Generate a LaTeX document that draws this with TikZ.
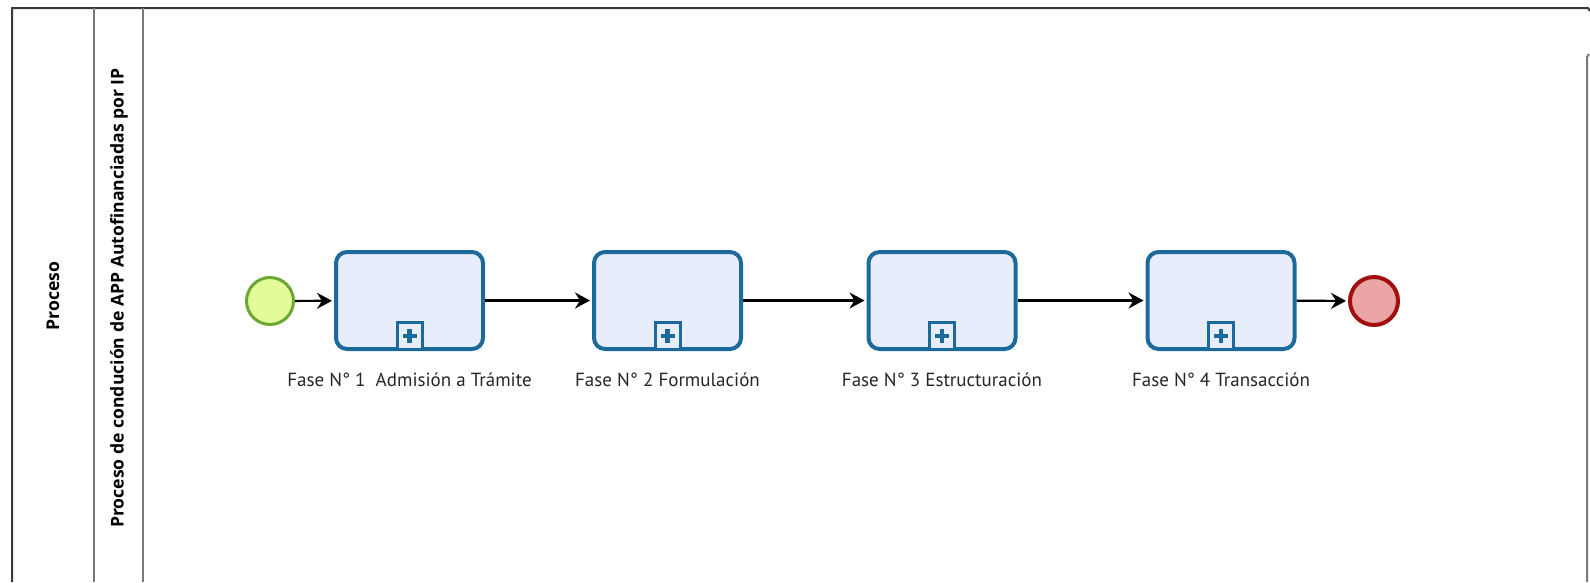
\documentclass[tikz,border=0pt]{standalone}
\usepackage{fontspec}
\setmainfont{PT Sans}
\newfontfamily\lanefont{Open Sans}
\usetikzlibrary{arrows.meta}
\definecolor{taskblue}{HTML}{1C6A9B}
\definecolor{taskfill}{HTML}{E8EDFC}
\definecolor{startfill}{HTML}{E3FB9A}
\definecolor{startline}{HTML}{6BA833}
\definecolor{endfill}{HTML}{EBA5A5}
\definecolor{endline}{HTML}{A00E0E}
\definecolor{laneline}{HTML}{7A7A7A}
\definecolor{poolline}{HTML}{3A3A3A}
\begin{document}
\begin{tikzpicture}[x=1pt,y=-1pt,
  subproc/.style={draw=taskblue, line width=4pt, fill=taskfill, rounded corners=11pt,
    minimum width=147pt, minimum height=97pt, inner sep=0pt},
  collapsed/.style={draw=taskblue, line width=3pt, fill=taskfill, minimum width=25pt,
    minimum height=27pt, inner sep=0pt, anchor=south},
  plusbar/.style={draw=taskblue, line width=4.5pt},
  startevent/.style={circle, draw=startline, line width=3pt, fill=startfill,
    minimum size=47pt, inner sep=0pt},
  endevent/.style={circle, draw=endline, line width=4pt, fill=endfill,
    minimum size=48pt, inner sep=0pt},
  flow/.style={line width=2.2pt, -{Stealth[length=15pt,width=16pt,inset=5pt]}},
  tasklabel/.style={font=\fontsize{19}{22}\selectfont, text=black!85},
  lanelabel/.style={rotate=90, font=\lanefont\bfseries\fontsize{17.6}{20}\selectfont}
]
\useasboundingbox (0,0) rectangle (1590,582);

% pool and lane frame
\draw[poolline, line width=2pt] (12,582) -- (12,8) -- (1588,8) -- (1590,11);
\draw[laneline, line width=2pt] (94,8) -- (94,582);
\draw[laneline, line width=2pt] (143,8) -- (143,582);
\draw[laneline, line width=2pt] (1587,582) -- (1587,57) -- (1589,54);

\node[lanelabel] (pool) at (53,296) {Proceso};
\node[lanelabel] (lane) at (119,298) {Proceso de condución de APP Autofinanciadas por IP};

% events
\node[startevent] (start) at (270,301) {};
\node[endevent] (end) at (1374,301) {};

% collapsed sub-processes with their labels
\foreach \i/\x/\txt in {1/409.5/{Fase N° 1\ \ Admisión a Trámite},
                        2/667.5/{Fase N° 2 Formulación},
                        3/942/{Fase N° 3 Estructuración},
                        4/1221/{Fase N° 4 Transacción}}{
  \node[subproc] (t\i) at (\x,300.5) {};
  \node[collapsed] (m\i) at (t\i.south) {};
  \draw[plusbar] ([xshift=-7pt]m\i.center) -- ([xshift=7pt]m\i.center);
  \draw[plusbar] ([yshift=-7pt]m\i.center) -- ([yshift=7pt]m\i.center);
  \node[tasklabel] (l\i) at (\x,380) {\txt};
}

% sequence flows
\draw[flow, shorten >=2pt] (start) -- (t1);
\draw[flow, shorten >=2pt] (t1) -- (t2);
\draw[flow, shorten >=2pt] (t2) -- (t3);
\draw[flow, shorten >=2pt] (t3) -- (t4);
\draw[flow, shorten >=2pt] (t4) -- (end);
\end{tikzpicture}
\end{document}
